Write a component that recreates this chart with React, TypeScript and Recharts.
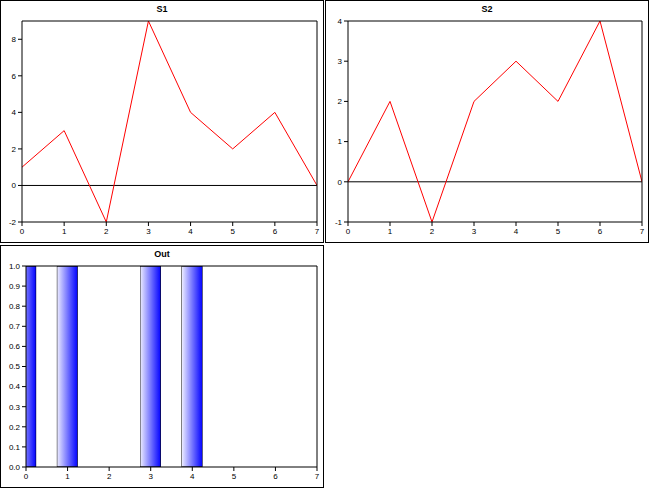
import React from 'react';
import { LineChart, Line, XAxis, YAxis, ReferenceLine, BarChart, Bar } from 'recharts';

const xs = [0, 1, 2, 3, 4, 5, 6, 7];
const s1Values = [1, 3, -2, 9, 4, 2, 4, 0];
const s2Values = [0, 2, -1, 2, 3, 2, 4, 0];
const outX = [0, 1, 3, 4];
const outValues = [1, 1, 1, 1];
const s1Ticks = [-2, 0, 2, 4, 6, 8];
const s2Ticks = [-1, 0, 1, 2, 3, 4];
const outTicks = [0, 0.1, 0.2, 0.3, 0.4, 0.5, 0.6, 0.7, 0.8, 0.9, 1.0];

const s1Data = xs.map((x, i) => ({ x, v: s1Values[i] }));
const s2Data = xs.map((x, i) => ({ x, v: s2Values[i] }));
const outData = outX.map((x, i) => ({ x, v: outValues[i] }));

const tickStyle = { fontSize: 8, fill: '#000', fontFamily: 'Liberation Sans, Arial' };
const W = 322;
const H = 241;

const Frame: React.FC<{ left: number; top: number; title: string; children: React.ReactNode }> = ({ left, top, title, children }) => (
    <div style={{ position: 'absolute', left, top, width: W, height: H, border: '1px solid #000', background: '#fff' }}>
        <div style={{ position: 'absolute', top: 3, width: '100%', textAlign: 'center', fontFamily: 'Liberation Sans, Arial', fontWeight: 'bold', fontSize: 9 }}>{title}</div>
        {children}
    </div>
);

const axes = (yTicks: number[], domain: [number, number], yWidth: number, fmt?: (v: number) => string) => [
    <XAxis key="x" dataKey="x" type="number" domain={[0, 7]} ticks={xs} allowDataOverflow tick={tickStyle} tickSize={4} stroke="#000" height={16} interval={0} />,
    <XAxis key="xt" xAxisId="top" orientation="top" dataKey="x" type="number" domain={[0, 7]} ticks={xs} tick={false} tickSize={4} mirror stroke="#000" height={1} />,
    <YAxis key="y" type="number" domain={domain} ticks={yTicks} allowDataOverflow tick={tickStyle} tickSize={4} stroke="#000" width={yWidth} interval={0} tickFormatter={fmt} />,
    <YAxis key="yr" yAxisId="right" orientation="right" type="number" domain={domain} ticks={yTicks} tick={false} tickSize={4} mirror stroke="#000" width={1} />,
];

const PulseShape = (props: any) => {
    const { x, y, width, height, index } = props;
    const plotLeft = 25;
    const cx = Math.max(x, plotLeft);
    const id = `clip${index}`;
    return (
        <g>
            <clipPath id={id}>
                <rect x={cx} y={y - 1} width={Math.max(0, x + width - cx)} height={height + 2} />
            </clipPath>
            <g clipPath={`url(#${id})`}>
                <rect x={x} y={y} width={width} height={height} fill="url(#pulseGrad)" stroke="#000" strokeWidth={1} />
            </g>
        </g>
    );
};

export default function App() {
    return (
        <div style={{ position: 'absolute', left: 0, top: 0, width: 650, height: 490, background: '#fff' }}>
            <Frame left={0} top={0} title="S1">
                <LineChart width={W} height={H} data={s1Data} margin={{ top: 20, right: 6, bottom: 4, left: 0 }}>
                    {axes(s1Ticks, [-2, 9], 21)}
                    <ReferenceLine y={0} stroke="#000" />
                    <Line dataKey="v" stroke="#ff0000" strokeWidth={1} dot={false} isAnimationActive={false} />
                </LineChart>
            </Frame>
            <Frame left={325} top={0} title="S2">
                <LineChart width={W} height={H} data={s2Data} margin={{ top: 20, right: 6, bottom: 4, left: 0 }}>
                    {axes(s2Ticks, [-1, 4], 22)}
                    <ReferenceLine y={0} stroke="#000" />
                    <Line dataKey="v" stroke="#ff0000" strokeWidth={1} dot={false} isAnimationActive={false} />
                </LineChart>
            </Frame>
            <Frame left={0} top={245} title="Out">
                <BarChart width={W} height={H} data={outData} margin={{ top: 20, right: 6, bottom: 4, left: 0 }}>
                    <defs>
                        <linearGradient id="pulseGrad" x1="0" y1="0" x2="1" y2="0">
                            <stop offset="0%" stopColor="#f0f0ff" />
                            <stop offset="100%" stopColor="#0000ff" />
                        </linearGradient>
                    </defs>
                    {axes(outTicks, [0, 1], 25, (v) => v.toFixed(1))}
                    <Bar dataKey="v" barSize={21} shape={PulseShape} isAnimationActive={false} />
                </BarChart>
            </Frame>
        </div>
    );
}
